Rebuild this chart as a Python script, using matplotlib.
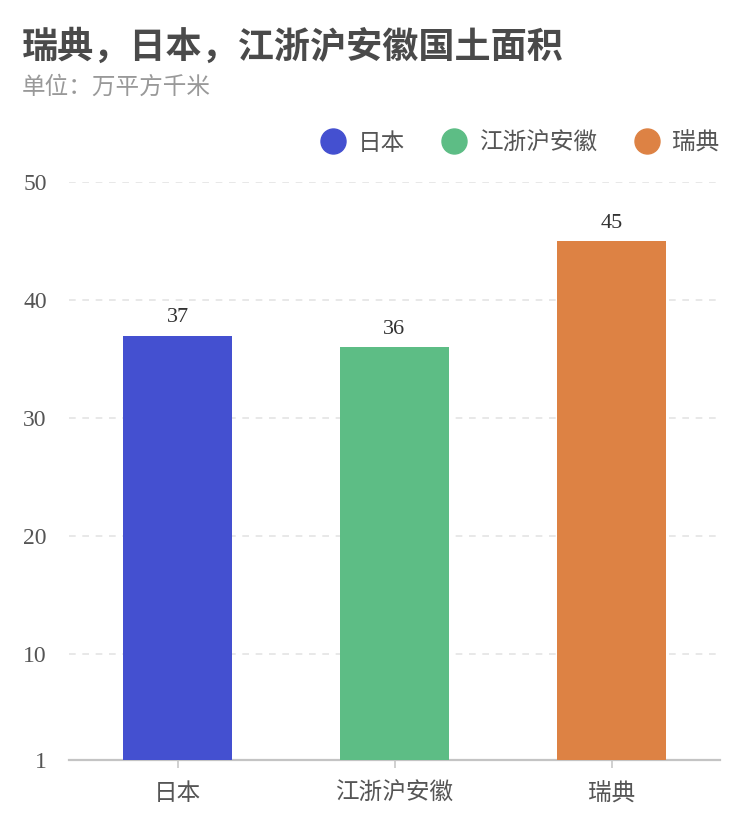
import matplotlib
matplotlib.use("Agg")
import matplotlib.pyplot as plt
from matplotlib.lines import Line2D

plt.rcParams['font.family'] = ['Noto Sans CJK SC', 'DejaVu Sans']

regions = ["日本", "江浙沪安徽", "瑞典"]
areas = [37, 36, 45]
colors = ["#4450D0", "#5DBD85", "#DD8244"]
yticks = [1, 10, 20, 30, 40, 50]

fig = plt.figure(figsize=(7.5, 8.32), dpi=100)
ax = fig.add_axes([0.092, 0.0865, 0.868, 0.6945])

x = range(len(regions))
bars = ax.bar(x, [a - 1 for a in areas], bottom=1, width=0.5, color=colors, zorder=3)
for xi, a in zip(x, areas):
    ax.text(xi, a + 0.7, str(a), ha="center", va="bottom", fontsize=16,
            family="Liberation Serif", color="#333333", zorder=4)

ax.set_xlim(-0.5, 2.5)
ax.set_ylim(1, 50)
ax.set_yticks(yticks)
ax.set_yticklabels([str(t) for t in yticks], family="Liberation Serif", fontsize=17, color="#555555")
ax.set_xticks(list(x))
ax.set_xticklabels(regions, fontsize=17, color="#555555")
ax.tick_params(axis="y", length=0, pad=16)
ax.tick_params(axis="x", length=6, color="#c8c8c8", width=1.2, pad=10)

for t in yticks[1:]:
    ax.axhline(t, color="#e4e4e4", lw=1.2, ls=(0, (4, 4)), zorder=1)

for s in ["top", "right", "left"]:
    ax.spines[s].set_visible(False)
ax.spines["bottom"].set_color("#c4c4c4")
ax.spines["bottom"].set_linewidth(1.6)

handles = [Line2D([], [], marker="o", ls="", markersize=18, color=c) for c in colors]
leg = fig.legend(handles, regions, loc="center right", bbox_to_anchor=(0.987, 0.828),
                 ncol=3, frameon=False, fontsize=17, handletextpad=0.55,
                 columnspacing=1.6, handlelength=1.0)
for t in leg.get_texts():
    t.set_color("#555555")

fig.text(22 / 750, 1 - 47 / 832, "瑞典，日本，江浙沪安徽国土面积", fontsize=26,
         fontweight="bold", color="#4a4a4a", va="center", ha="left")
fig.text(22 / 750, 1 - 87 / 832, "单位：万平方千米", fontsize=17,
         color="#999999", va="center", ha="left")

fig.savefig("out.png", dpi=100, facecolor="white")
